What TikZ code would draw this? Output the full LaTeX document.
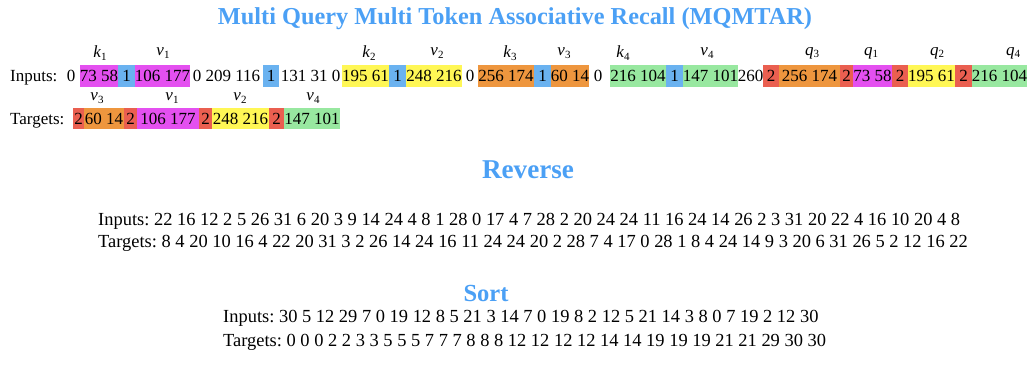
\documentclass[tikz,border=0pt]{standalone}
\usepackage{fontspec}
\setmainfont{Liberation Serif}
\usepackage{graphicx}
\frenchspacing
\definecolor{cmag}{RGB}{228,80,240}
\definecolor{cblue}{RGB}{106,178,240}
\definecolor{cyel}{RGB}{255,247,85}
\definecolor{cora}{RGB}{238,150,62}
\definecolor{cgrn}{RGB}{152,232,160}
\definecolor{cred}{RGB}{234,95,80}
\definecolor{ctitle}{RGB}{75,160,245}
\newsavebox{\revbox}
\newcommand{\lbl}[2]{\textit{#1}\raisebox{-0.35ex}{\fontsize{11pt}{12pt}\selectfont #2}}
\begin{document}
\sbox{\revbox}{\fontsize{10pt}{12pt}\selectfont Inputs: 22 16 12 2 5 26 31 6 20 3 9 14 24 4 8 1 28 0 17 4 7 28 2 20 24 24 11 16 24 14 26 2 3 31 20 22 4 16 10 20 4 8}%
\pgfmathsetmacro{\fsz}{8620/\the\wd\revbox}%
\begin{tikzpicture}[x=1pt,y=-1pt,
  top/.style={font=\fontsize{17pt}{19pt}\selectfont, inner sep=0pt, text height=11.5pt, text depth=0pt},
  tok/.style={top, minimum height=22.5pt},
  tokb/.style={top, minimum height=21pt},
  lab/.style={font=\fontsize{17pt}{19pt}\selectfont, inner sep=0pt},
  ttl/.style={text=ctitle, inner sep=0pt, anchor=base},
  line/.style={inner sep=0pt, anchor=base west, font=\fontsize{\fsz pt}{20pt}\selectfont}]
\useasboundingbox (0,0) rectangle (1029,368);
% title
\node[ttl] (title) at (515,24) {\resizebox{594pt}{!}{\bfseries Multi Query Multi Token Associative Recall (MQMTAR)}};
% inputs row
\node[top, anchor=west] (inlab) at (10,75.75) {Inputs:};
\node[top] (t0) at (71,75.75) {0};
\node[tok, fill=cmag, minimum width=38pt] (i1) at (99,75.75) {73 58};
\node[tok, fill=cblue, minimum width=17pt] (i2) at (126.5,75.75) {1};
\node[tok, fill=cmag, minimum width=55pt] (i3) at (162.5,75.75) {106 177};
\node[top] (t1) at (226.5,75.75) {0 209 116};
\node[tok, fill=cblue, minimum width=16pt] (i4) at (271,75.75) {1};
\node[top] (t2) at (310.5,75.75) {131 31 0};
\node[tok, fill=cyel, minimum width=47pt] (i5) at (365.5,75.75) {195 61};
\node[tok, fill=cblue, minimum width=17pt] (i6) at (397.5,75.75) {1};
\node[tok, fill=cyel, minimum width=56pt] (i7) at (434,75.75) {248 216};
\node[top] (t3) at (470,75.75) {0};
\node[tok, fill=cora, minimum width=56pt] (i8) at (506,75.75) {256 174};
\node[tok, fill=cblue, minimum width=17pt] (i9) at (542.5,75.75) {1};
\node[tok, fill=cora, minimum width=38pt] (i10) at (570,75.75) {60 14};
\node[top] (t4) at (598,75.75) {0};
\node[tok, fill=cgrn, minimum width=56pt] (i11) at (638,75.75) {216 104};
\node[tok, fill=cblue, minimum width=17pt] (i12) at (674.5,75.75) {1};
\node[tok, fill=cgrn, minimum width=55pt] (i13) at (710.5,75.75) {147 101};
\node[top] (t5) at (750.5,75.75) {260};
\node[tok, fill=cred, minimum width=16pt] (i14) at (771,75.75) {2};
\node[tok, fill=cora, minimum width=61pt] (i15) at (809.5,75.75) {256 174};
\node[tok, fill=cred, minimum width=13pt] (i16) at (846.5,75.75) {2};
\node[tok, fill=cmag, minimum width=39pt] (i17) at (872.5,75.75) {73 58};
\node[tok, fill=cred, minimum width=16pt] (i18) at (900,75.75) {2};
\node[tok, fill=cyel, minimum width=47pt] (i19) at (931.5,75.75) {195 61};
\node[tok, fill=cred, minimum width=17pt] (i20) at (963.5,75.75) {2};
\node[tok, fill=cgrn, minimum width=55pt] (i21) at (999.5,75.75) {216 104};
% input labels
\node[lab] (lk1) at (100,53) {\lbl{k}{1}};
\node[lab] (lv1) at (163,53) {\lbl{v}{1}};
\node[lab] (lk2) at (369,53) {\lbl{k}{2}};
\node[lab] (lv2) at (437,53) {\lbl{v}{2}};
\node[lab] (lk3) at (510,53) {\lbl{k}{3}};
\node[lab] (lv3) at (564,53) {\lbl{v}{3}};
\node[lab] (lk4) at (623,53) {\lbl{k}{4}};
\node[lab] (lv4) at (707,53) {\lbl{v}{4}};
\node[lab] (lq3) at (812,53) {\lbl{q}{3}};
\node[lab] (lq1) at (871,53) {\lbl{q}{1}};
\node[lab] (lq2) at (937,53) {\lbl{q}{2}};
\node[lab] (lq4) at (1013,53) {\lbl{q}{4}};
% targets row
\node[top, anchor=west] (tglab) at (10,118.5) {Targets:};
\node[tokb, fill=cred, minimum width=11pt] (o1) at (78.5,118.5) {2};
\node[tokb, fill=cora, minimum width=40pt] (o2) at (104,118.5) {60 14};
\node[tokb, fill=cred, minimum width=13pt] (o3) at (130.5,118.5) {2};
\node[tokb, fill=cmag, minimum width=62pt] (o4) at (168,118.5) {106 177};
\node[tokb, fill=cred, minimum width=13pt] (o5) at (205.5,118.5) {2};
\node[tokb, fill=cyel, minimum width=57pt] (o6) at (240.5,118.5) {248 216};
\node[tokb, fill=cred, minimum width=15pt] (o7) at (276.5,118.5) {2};
\node[tokb, fill=cgrn, minimum width=56pt] (o8) at (312,118.5) {147 101};
\node[lab] (mv3) at (97,98) {\lbl{v}{3}};
\node[lab] (mv1) at (172,98) {\lbl{v}{1}};
\node[lab] (mv2) at (240,98) {\lbl{v}{2}};
\node[lab] (mv4) at (313,98) {\lbl{v}{4}};
% reverse
\node[ttl] (rev) at (528,178) {\resizebox{92pt}{!}{\bfseries Reverse}};
\node[line] (rin) at (98,225) {Inputs: 22 16 12 2 5 26 31 6 20 3 9 14 24 4 8 1 28 0 17 4 7 28 2 20 24 24 11 16 24 14 26 2 3 31 20 22 4 16 10 20 4 8};
\node[line] (rtg) at (98,247) {Targets: 8 4 20 10 16 4 22 20 31 3 2 26 14 24 16 11 24 24 20 2 28 7 4 17 0 28 1 8 4 24 14 9 3 20 6 31 26 5 2 12 16 22};
% sort
\node[ttl] (srt) at (486,301) {\resizebox{45pt}{!}{\bfseries Sort}};
\node[line] (sin) at (223,322) {Inputs: 30 5 12 29 7 0 19 12 8 5 21 3 14 7 0 19 8 2 12 5 21 14 3 8 0 7 19 2 12 30};
\node[line] (stg) at (223,346) {Targets: 0 0 0 2 2 3 3 5 5 5 7 7 7 8 8 8 12 12 12 12 14 14 19 19 19 21 21 29 30 30};
\end{tikzpicture}
\end{document}
